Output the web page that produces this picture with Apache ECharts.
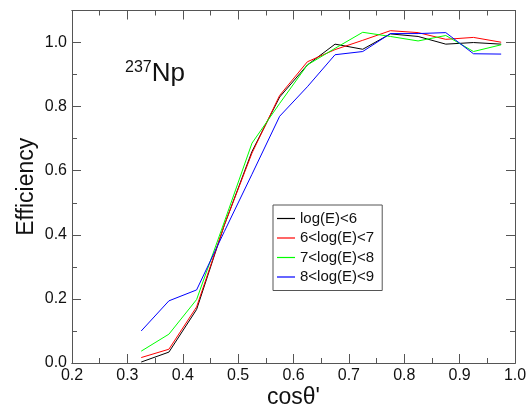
<!DOCTYPE html>
<html><head><meta charset="utf-8">
<script src="https://cdn.jsdelivr.net/npm/echarts@6/dist/echarts.min.js"></script>
<style>html,body{margin:0;padding:0;background:#fff}#c{width:528px;height:406px}</style>
</head><body><div id="c"></div>
<script>
const cosTheta = [0.325,0.375,0.425,0.475,0.525,0.575,0.625,0.675,0.725,0.775,0.825,0.875,0.925,0.975];
const effLt6   = [0.003,0.034,0.167,0.43,0.66,0.83,0.93,0.995,0.979,1.027,1.019,0.995,1.0,0.995];
const eff6to7  = [0.017,0.043,0.175,0.43,0.655,0.835,0.94,0.978,1.007,1.037,1.031,1.01,1.016,1.001];
const eff7to8  = [0.037,0.09,0.198,0.44,0.686,0.81,0.93,0.982,1.032,1.019,1.005,1.022,0.972,0.993];
const eff8to9  = [0.1,0.194,0.228,0.41,0.589,0.77,0.862,0.962,0.972,1.028,1.028,1.031,0.965,0.964];
const seriesNames = ['log(E)<6','6<log(E)<7','7<log(E)<8','8<log(E)<9'];
const seriesColors = ['#000000','#ff0000','#00ff00','#0000ff'];
const xTicks = [0.2,0.3,0.4,0.5,0.6,0.7,0.8,0.9,1.0];
const yTicks = [0.0,0.2,0.4,0.6,0.8,1.0];

const FONT = 'Liberation Sans';
const AX = '#555';
const chart = echarts.init(document.getElementById('c'), null, {renderer:'canvas'});
const allEff = [effLt6, eff6to7, eff7to8, eff8to9];

function xAxisDef(pos, major, show){
  return {
    type:'value', position:pos, min:xTicks[0], max:xTicks[xTicks.length-1],
    interval: major ? 0.1 : 0.05,
    axisLine:{show:true, onZero:false, lineStyle:{color:AX, width:1}},
    axisTick:{show:true, inside:true, length: major?9:5, lineStyle:{color:AX}},
    splitLine:{show:false},
    axisLabel:{show:show, fontSize:16, fontFamily:FONT, color:'#111', margin:5,
      formatter:v=>v.toFixed(1)},
    name: show ? "cosθ'" : '', nameLocation:'middle', nameGap:23, nameMoveOverlap:false,
    nameTextStyle:{fontSize:23, fontFamily:FONT, color:'#111'}
  };
}
function yAxisDef(pos, major, show){
  return {
    type:'value', position:pos, min:0, max:1.1,
    interval: major ? 0.2 : 0.1,
    axisLine:{show:true, onZero:false, lineStyle:{color:AX, width:1}},
    axisTick:{show:true, inside:true, length: major?9:5, lineStyle:{color:AX}},
    splitLine:{show:false},
    axisLabel:{show:show, fontSize:16, fontFamily:FONT, color:'#111', margin:5,
      formatter:v=> (yTicks.some(t=>Math.abs(t-v)<1e-6) ? v.toFixed(1) : '')},
    name: show ? 'Efficiency' : '', nameLocation:'middle', nameGap:34, nameMoveOverlap:false,
    nameTextStyle:{fontSize:23, fontFamily:FONT, color:'#111'}
  };
}

chart.setOption({
  animation:false,
  backgroundColor:'#fff',
  grid:{left:72, right:13, top:10.5, bottom:43, containLabel:false, outerBoundsMode:'none'},
  xAxis:[xAxisDef('bottom',true,true), xAxisDef('top',true,false),
         xAxisDef('bottom',false,false), xAxisDef('top',false,false)],
  yAxis:[yAxisDef('left',true,true), yAxisDef('right',true,false),
         yAxisDef('left',false,false), yAxisDef('right',false,false)],
  legend:{
    orient:'vertical', left:273, top:205, width:120,
    padding:[6,8,6,4], itemGap:4.5, itemWidth:18, itemHeight:1.2, icon:'rect',
    backgroundColor:'#fff', borderColor:AX, borderWidth:1,
    textStyle:{fontSize:15, fontFamily:FONT, color:'#111', lineHeight:15},
    data: seriesNames
  },
  graphic:[{
    type:'text', left:125, top:60,
    style:{rich:{s:{fontSize:16,fontFamily:FONT,fill:'#111',verticalAlign:'top',padding:[0,0,11,0]},
                 b:{fontSize:26,fontFamily:FONT,fill:'#111'}},
           text:'{s|237}{b|Np}'}
  }],
  series: seriesNames.map((n,i)=>({
    name:n, type:'line', xAxisIndex:0, yAxisIndex:0,
    showSymbol:false, symbol:'none',
    lineStyle:{color:seriesColors[i], width:1},
    itemStyle:{color:seriesColors[i]},
    data: cosTheta.map((x,j)=>[x, allEff[i][j]])
  }))
});
</script></body></html>
